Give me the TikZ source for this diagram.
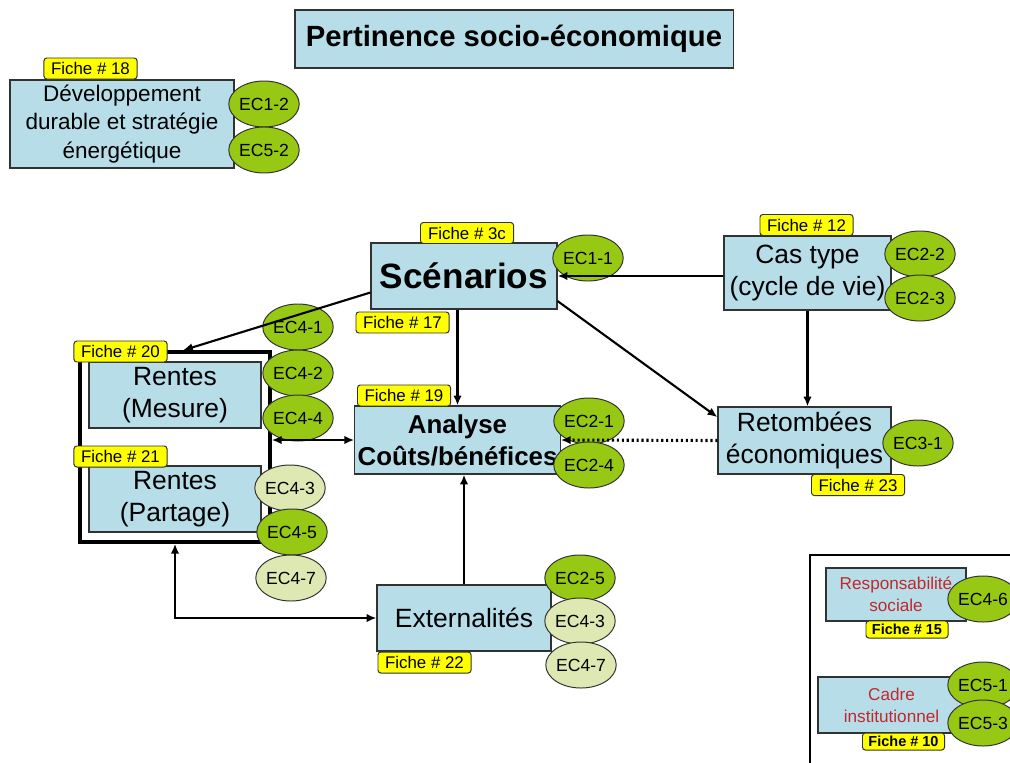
\documentclass[tikz,border=0pt]{standalone}
\usepackage{fontspec}
\setmainfont{Liberation Sans}
\usepackage{xcolor}
\usetikzlibrary{shapes,arrows.meta,positioning}

\definecolor{boxblue}{RGB}{183,222,232}
\definecolor{ficheyellow}{RGB}{255,255,0}
\definecolor{ecgreen}{RGB}{150,200,20}
\definecolor{ecpalefill}{RGB}{222,232,178}
\definecolor{redtext}{RGB}{192,40,45}
\definecolor{boxline}{RGB}{50,50,50}

\tikzset{
  mainbox/.style={draw=boxline, fill=boxblue, line width=0.8pt, align=center,
    inner sep=2pt, font=\fontsize{18.8}{22.6}\selectfont},
  fiche/.style={draw=boxline, fill=ficheyellow, rounded corners=2pt, line width=0.7pt,
    minimum width=2.325cm, minimum height=0.525cm, inner sep=0pt,
    font=\fontsize{12}{14}\selectfont},
  fichebold/.style={fiche, minimum width=2.05cm, minimum height=0.425cm,
    font=\fontsize{10.3}{12}\selectfont\bfseries},
  ec/.style={ellipse, draw=black!80, fill=ecgreen, line width=0.7pt,
    minimum width=1.45cm, minimum height=1.15cm, inner sep=0pt,
    font=\fontsize{12.5}{14}\selectfont},
  ecfaint/.style={ec, fill=ecpalefill},
  flow/.style={-{Latex[length=7pt,width=6pt]}, line width=1.5pt},
  flowboth/.style={{Latex[length=7pt,width=6pt]}-{Latex[length=7pt,width=6pt]}, line width=1.5pt},
}

\begin{document}
\begin{tikzpicture}[x=0.025cm, y=-0.025cm]
    \clip (0,0) rectangle (1010,762);

    % titre
    \node[mainbox, minimum width=10.95cm, minimum height=1.45cm,
        font=\fontsize{20.8}{24}\selectfont\bfseries] (title) at (514,39)
        {Pertinence socio-économique};

    % developpement durable
    \node[mainbox, minimum width=5.6cm, minimum height=2.2cm,
        font=\fontsize{16}{20}\selectfont] (dev) at (122,124)
        {Développement\\durable et stratégie\\énergétique};
    \node[fiche] (f18) at (90.5,68.5) {Fiche \# 18};
    \node[ec] (ec12) at (264,104) {EC1-2};
    \node[ec] (ec52) at (264,150) {EC5-2};

    % boites principales
    \node[mainbox, minimum width=4.65cm, minimum height=1.65cm,
        font=\fontsize{25}{28}\selectfont\bfseries] (scen) at (464,276) {Scénarios};
    \node[mainbox, minimum width=4.175cm, minimum height=1.85cm] (cas) at (807.5,273)
        {Cas type\\(cycle de vie)};
    \node[mainbox, minimum width=5.125cm, minimum height=1.7cm,
        font=\fontsize{18.4}{22.8}\selectfont\bfseries] (analyse) at (457.5,440)
        {Analyse\\Coûts/bénéfices};
    \node[mainbox, minimum width=4.325cm, minimum height=1.675cm] (retomb) at (804.5,440.5)
        {Retombées\\économiques};
    \node[mainbox, minimum width=4.35cm, minimum height=1.65cm] (ext) at (464,618)
        {Externalités};

    % cadre des rentes
    \node[draw, line width=2.4pt, minimum width=4.75cm, minimum height=4.75cm] (rentes) at (175,447) {};
    \node[mainbox, minimum width=4.3cm, minimum height=1.65cm] (mesure) at (175,395)
        {Rentes\\(Mesure)};
    \node[mainbox, minimum width=4.3cm, minimum height=1.65cm] (partage) at (175,499)
        {Rentes\\(Partage)};

    % fiches
    \node[fiche] (f3c) at (467,233) {Fiche \# 3c};
    \node[fiche] (f17) at (402.5,322.5) {Fiche \# 17};
    \node[fiche] (f12) at (806.5,225) {Fiche \# 12};
    \node[fiche] (f20) at (120.5,351.5) {Fiche \# 20};
    \node[fiche] (f21) at (120.5,456.5) {Fiche \# 21};
    \node[fiche] (f19) at (404,395.5) {Fiche \# 19};
    \node[fiche] (f23) at (858,485) {Fiche \# 23};
    \node[fiche] (f22) at (424.5,662.5) {Fiche \# 22};

    % ellipses EC
    \node[ec] (ec11) at (588,258) {EC1-1};
    \node[ec] (ec22) at (920,254) {EC2-2};
    \node[ec] (ec23) at (920,298) {EC2-3};
    \node[ec] (ec41) at (298,327) {EC4-1};
    \node[ec] (ec42) at (298,373) {EC4-2};
    \node[ec] (ec44) at (298,418) {EC4-4};
    \node[ecfaint] (ec43a) at (290,488) {EC4-3};
    \node[ec] (ec45) at (292,532) {EC4-5};
    \node[ecfaint] (ec47a) at (291,578) {EC4-7};
    \node[ec] (ec21) at (589,421) {EC2-1};
    \node[ec] (ec24) at (589,465) {EC2-4};
    \node[ec] (ec31) at (918,443) {EC3-1};
    \node[ec] (ec25) at (580,578) {EC2-5};
    \node[ecfaint] (ec43b) at (580,621) {EC4-3};
    \node[ecfaint] (ec47b) at (581,665) {EC4-7};

    % liens
    \draw[flow] (cas.west |- scen.east) -- (scen.east);
    \draw[flow] (scen.-15) -- (retomb.165);
    \draw[flow] (cas.south) -- (cas.south |- retomb.north);
    \draw[flow] (scen.south -| analyse.north) -- (analyse.north);
    \draw[flow] (scen.190) -- ([xshift=0.2cm]rentes.north);
    \draw[flowboth] (rentes.east |- analyse.west) -- (analyse.west);
    \draw[flow, dotted, line width=2.2pt] (retomb.west) -- (analyse.east);
    \draw[flow] (ext.north) -- (ext.north |- analyse.south);
    \draw[flowboth] (rentes.south) |- (ext.west);

    % cadre de droite
    \draw[line width=1.6pt] (810,555) rectangle (1014,766);
    \node[mainbox, minimum width=3.5cm, minimum height=1.325cm, text=redtext,
        font=\fontsize{12.2}{15.6}\selectfont] (resp) at (896,594.5)
        {Responsabilité\\sociale};
    \node[fichebold] (f15) at (907,629.5) {Fiche \# 15};
    \node[ec] (ec46) at (983,599) {EC4-6};
    \node[mainbox, minimum width=3.675cm, minimum height=1.4cm, text=redtext,
        font=\fontsize{12.2}{15.6}\selectfont] (cadre) at (891.5,705)
        {Cadre\\institutionnel};
    \node[fichebold] (f10) at (903.5,741.5) {Fiche \# 10};
    \node[ec] (ec51) at (983,685) {EC5-1};
    \node[ec] (ec53) at (983,723) {EC5-3};

\end{tikzpicture}
\end{document}
